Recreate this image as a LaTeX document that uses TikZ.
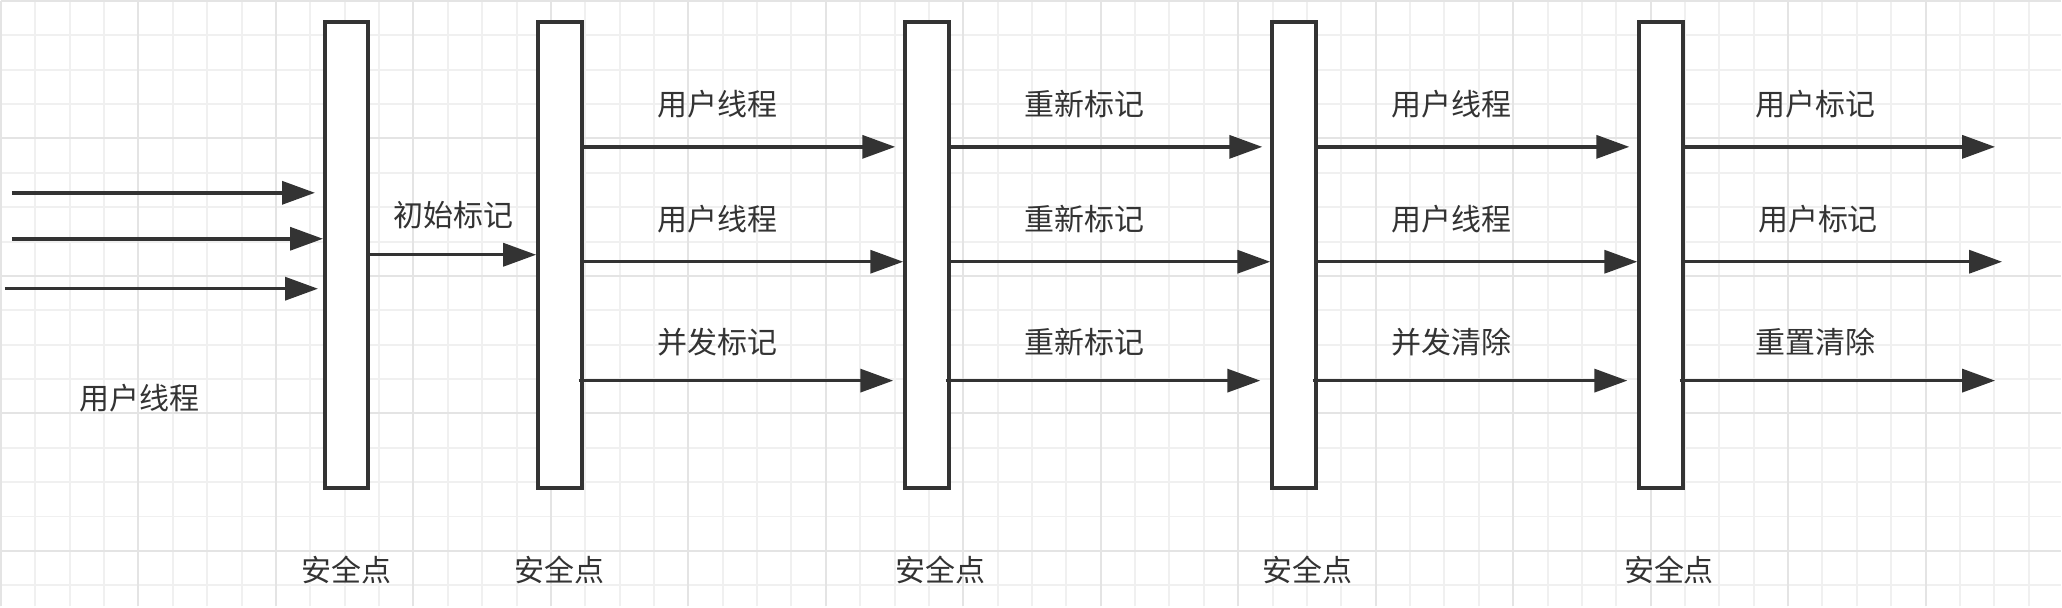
\documentclass[tikz,border=0pt]{standalone}
\usepackage{fontspec}
\setmainfont{Noto Sans CJK SC}
\usetikzlibrary{arrows.meta,positioning}
\definecolor{ink}{HTML}{333333}
\definecolor{gridminor}{HTML}{F0F0F0}
\definecolor{gridmajor}{HTML}{E4E4E4}

\begin{document}
\begin{tikzpicture}[x=0.5pt, y=-0.5pt, node distance=160pt,
  sp/.style={draw=ink, line width=2pt, fill=white, inner sep=0pt,
    minimum width=21.7pt, minimum height=233pt},
  arr/.style={draw=ink, line width=1.75pt, -{Triangle[length=16.5pt,width=11.5pt]}},
  lbl/.style={text=ink, inner sep=0pt, font=\fontsize{15}{17}\selectfont},
  hi/.style={shorten >=4pt},
  lo/.style={shorten <=-2.5pt, shorten >=5pt}]
  \fill[white] (0,0) rectangle (2062,606);
  \draw[gridminor, line width=1pt, step=17.2pt] (0pt,-303pt) grid (1031pt,0pt);
  \draw[gridmajor, line width=1pt, step=68.8pt] (0pt,-303pt) grid (1031pt,0pt);
  \useasboundingbox (0,0) rectangle (2062,606);

  \coordinate (r1) at (0,146);
  \coordinate (r2) at (0,261);
  \coordinate (r3) at (0,380);
  \coordinate (in1) at (11,192);
  \coordinate (in2) at (11,238);
  \coordinate (in3) at (4,288);
  \coordinate (e1) at (1996,146);
  \coordinate (e2) at (2003,261);
  \coordinate (e3) at (1996,380);

  \node[sp] (b1) at (346,254) {};
  \node[sp, right=83pt of b1] (b2) {};
  \node[sp, right=of b2] (b3) {};
  \node[sp, right=of b3] (b4) {};
  \node[sp, right=of b4] (b5) {};

  \draw[arr, hi] (in1) -- (in1 -| b1.west);
  \draw[arr] (in2) -- (in2 -| b1.west);
  \draw[arr, shorten >=2.5pt] (in3) -- (in3 -| b1.west);
  \node[lbl] (ut) at (139,398) {用户线程};

  \draw[arr] (b1) -- (b2) node[lbl, midway, yshift=20pt] (l0) {初始标记};

  \foreach \a/\b/\la/\lb/\lc in {b2/b3/用户线程/用户线程/并发标记,
      b3/b4/重新标记/重新标记/重新标记, b4/b5/用户线程/用户线程/并发清除} {
    \draw[arr, hi] (\a.east |- r1) -- (\b.west |- r1) node[lbl, pos=0.42, yshift=21.5pt] {\la};
    \draw[arr] (\a.east |- r2) -- (\b.west |- r2) node[lbl, pos=0.42, yshift=21.5pt] {\lb};
    \draw[arr, lo] (\a.east |- r3) -- (\b.west |- r3) node[lbl, pos=0.42, yshift=19.5pt] {\lc};
  }
  \draw[arr] (b5.east |- r1) -- (e1) node[lbl, pos=0.42, yshift=21.5pt] {用户标记};
  \draw[arr] (b5.east |- r2) -- (e2) node[lbl, pos=0.42, yshift=21.5pt] {用户标记};
  \draw[arr, shorten <=-2.5pt] (b5.east |- r3) -- (e3) node[lbl, pos=0.42, yshift=19.5pt] {重置清除};

  \node[lbl, below=33pt of b1] (s1) {安全点};
  \node[lbl, below=33pt of b2] (s2) {安全点};
  \node[lbl, below=33pt of b3, xshift=7pt] (s3) {安全点};
  \node[lbl, below=33pt of b4, xshift=7pt] (s4) {安全点};
  \node[lbl, below=33pt of b5, xshift=4pt] (s5) {安全点};
\end{tikzpicture}
\end{document}
